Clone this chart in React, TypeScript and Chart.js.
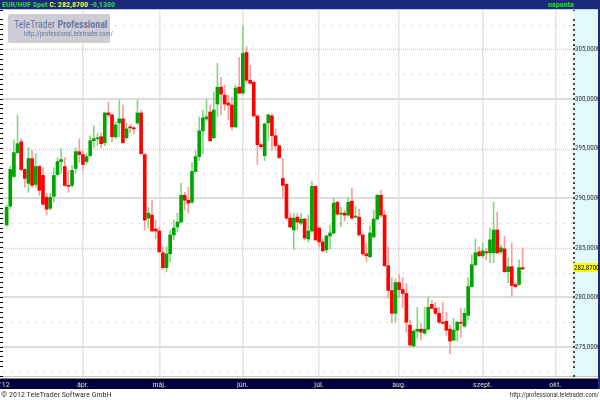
import { useEffect, useRef } from 'react';
import { Chart, registerables } from 'chart.js';

Chart.register(...registerables);

// ---- data (EUR/HUF Spot, daily candles) ----
const opens = [
  287.3, 289.2, 292.2, 294.6, 295.7, 292.9, 291.5, 294.0, 291.4, 293.2,
  292.3, 290.1, 289.0, 290.2, 292.4, 293.7, 293.2, 291.3, 291.3, 293.0,
  294.7, 294.4, 293.7, 294.3, 295.8, 296.0, 296.2, 295.6, 298.6, 298.4,
  296.2, 297.6, 298.0, 296.1, 297.2, 297.1, 297.6, 298.6, 294.4, 288.0,
  288.3, 286.9, 286.7, 284.5, 283.0, 284.4, 286.3, 287.1, 287.6, 290.3,
  289.8, 289.6, 292.7, 294.2, 296.8, 298.0, 298.7, 296.1, 299.5, 301.2,
  300.4, 299.6, 299.4, 297.2, 301.2, 300.6, 304.7, 301.9, 301.7, 298.3,
  295.4, 294.3, 297.6, 298.3, 296.3, 295.3, 292.0, 291.4, 288.0, 286.8,
  288.1, 287.5, 287.9, 285.9, 286.7, 291.2, 287.0, 285.6, 284.8, 286.2,
  286.5, 289.6, 288.4, 288.5, 288.3, 289.7, 288.1, 288.1, 286.3, 284.4,
  284.1, 286.1, 287.9, 290.3, 288.3, 283.2, 280.7, 278.4, 281.5, 280.8,
  280.4, 277.2, 275.1, 276.6, 276.8, 276.4, 276.8, 279.3, 278.9, 278.4,
  277.5, 277.6, 276.8, 275.7, 276.7, 277.5, 277.1, 278.2, 281.1, 283.3,
  284.6, 284.2, 284.6, 284.5, 284.5, 286.8, 284.6, 284.9, 282.6, 283.1,
  281.3, 281.3, 283.0,
];
const highs = [
  289.3, 293.2, 295.9, 298.4, 296.0, 293.0, 295.1, 294.8, 294.5, 293.3,
  293.1, 290.5, 290.5, 293.1, 294.1, 295.0, 294.1, 292.8, 293.3, 295.1,
  296.0, 294.8, 294.5, 296.3, 297.3, 296.5, 296.6, 298.7, 299.7, 298.5,
  297.7, 299.9, 299.4, 297.6, 297.4, 297.3, 299.9, 298.9, 294.5, 289.1,
  289.8, 287.8, 287.1, 285.1, 285.1, 286.8, 287.8, 288.5, 291.5, 290.6,
  291.1, 293.6, 294.8, 298.2, 298.9, 300.0, 299.4, 300.7, 303.6, 302.2,
  301.4, 300.4, 300.2, 301.4, 304.2, 307.3, 305.3, 303.4, 301.8, 298.4,
  295.6, 297.6, 298.5, 298.5, 297.0, 295.4, 294.0, 291.5, 288.5, 288.5,
  288.5, 288.5, 288.0, 288.3, 291.7, 291.2, 287.1, 285.9, 286.3, 287.3,
  290.0, 289.7, 289.1, 288.8, 290.1, 291.0, 289.2, 288.9, 286.4, 285.5,
  287.2, 288.8, 290.4, 290.8, 288.8, 285.1, 282.0, 281.9, 282.3, 282.0,
  281.4, 277.7, 276.8, 279.0, 277.4, 279.0, 280.0, 279.7, 279.5, 279.0,
  279.5, 278.5, 277.2, 277.9, 277.6, 278.9, 278.9, 282.0, 284.3, 285.9,
  285.1, 285.5, 284.9, 287.0, 289.6, 288.6, 285.3, 286.2, 284.0, 285.5,
  281.5, 283.8, 285.0,
];
const lows = [
  287.2, 288.9, 292.1, 294.5, 292.8, 291.1, 290.6, 291.1, 291.1, 290.3,
  289.3, 288.3, 288.8, 289.6, 292.2, 292.5, 291.2, 290.6, 291.1, 292.6,
  293.6, 292.8, 293.5, 294.2, 295.1, 295.3, 295.1, 295.3, 298.2, 295.7,
  296.0, 296.2, 295.5, 295.9, 296.6, 296.5, 297.4, 294.4, 286.8, 287.0,
  286.6, 285.9, 284.5, 282.8, 282.6, 283.6, 285.8, 286.6, 287.5, 288.8,
  288.5, 289.5, 292.6, 293.8, 294.5, 297.8, 295.7, 296.0, 298.2, 298.4,
  298.9, 297.9, 296.9, 297.1, 300.5, 300.5, 301.6, 301.5, 298.2, 293.4,
  295.0, 293.8, 295.8, 294.8, 294.8, 294.0, 290.0, 287.8, 287.0, 284.8,
  286.8, 287.3, 285.8, 285.6, 286.6, 285.7, 285.1, 284.6, 284.5, 284.9,
  286.4, 288.2, 287.1, 287.7, 288.2, 287.9, 288.0, 286.2, 284.2, 283.6,
  284.0, 286.0, 287.8, 288.1, 283.1, 279.9, 277.4, 277.5, 280.0, 279.0,
  276.5, 275.0, 275.0, 275.9, 275.7, 276.3, 276.7, 278.8, 278.2, 277.3,
  277.3, 276.2, 274.3, 275.6, 275.6, 276.0, 277.0, 277.7, 281.0, 283.2,
  284.1, 284.0, 283.8, 283.5, 283.5, 284.4, 284.4, 282.5, 281.5, 280.1,
  281.0, 281.2, 282.8,
];
const closes = [
  289.1, 292.9, 294.6, 295.5, 292.9, 292.0, 294.0, 291.3, 293.2, 290.8,
  289.4, 288.9, 290.1, 292.3, 293.7, 293.9, 291.3, 291.2, 292.8, 294.7,
  294.4, 293.4, 294.2, 295.8, 296.0, 296.1, 295.5, 298.6, 298.4, 296.2,
  297.4, 298.0, 295.6, 297.0, 297.1, 297.0, 298.6, 294.5, 287.8, 288.5,
  286.7, 286.7, 284.6, 283.0, 284.4, 286.3, 287.0, 287.6, 290.3, 289.8,
  289.5, 292.7, 294.2, 296.8, 298.1, 298.2, 295.8, 298.9, 301.2, 300.5,
  299.5, 299.4, 297.2, 301.1, 300.6, 304.6, 301.9, 301.6, 298.3, 295.4,
  295.2, 297.5, 298.4, 296.3, 295.3, 294.1, 291.3, 288.0, 287.1, 288.0,
  287.6, 287.9, 286.0, 286.7, 291.2, 285.8, 285.6, 284.7, 286.2, 286.5,
  289.5, 288.4, 288.5, 288.3, 289.6, 288.0, 288.2, 286.3, 284.4, 284.2,
  286.5, 287.9, 290.3, 288.3, 283.2, 280.7, 278.4, 281.5, 280.8, 280.4,
  277.5, 275.2, 276.6, 276.8, 276.5, 276.8, 279.0, 278.9, 278.4, 277.5,
  277.4, 276.7, 275.6, 276.7, 277.5, 277.4, 278.4, 281.1, 283.3, 284.5,
  284.2, 284.7, 284.5, 285.8, 286.8, 284.5, 285.0, 282.6, 283.1, 281.2,
  281.1, 283.0, 282.87,
];

const monthTicks = [0.55, 22, 43, 66, 87, 109, 132, 152];
const monthLabels = ["'12", 'ápr.', 'máj.', 'jún.', 'júl.', 'aug.', 'szept.', 'okt.'];

const yMin = 272.08;
const yMax = 308.98;
const xMin = 0;
const xMax = 156.85;
const lastClose = 282.87;
const priceChange = -0.13;

const COND = '"Roboto Condensed", "DejaVu Sans Condensed", sans-serif';
const UP = '#00a400';
const DOWN = '#ff0000';
const UP_WICK = '#84d884';
const DOWN_WICK = '#f4a0a0';

const fmt = (v: number) => v.toFixed(4).replace('.', ',');
const isMult = (v: number, m: number) => Math.abs(v / m - Math.round(v / m)) < 1e-6;

const decor = {
  id: 'decor',
  beforeDraw(chart: any) {
    const { ctx, chartArea: a, width } = chart;
    const xs = chart.scales.x;
    ctx.save();
    ctx.fillStyle = '#ffffff';
    ctx.fillRect(0, 0, width, chart.height);
    ctx.fillStyle = '#e2f9fc';
    ctx.fillRect(a.right, a.top, width - 2 - a.right, a.bottom - a.top);
    ctx.fillStyle = '#c8c8c8';
    ctx.fillRect(0, a.bottom, width, 1);
    ctx.fillStyle = '#8c8c60';
    ctx.fillRect(0, a.bottom + 2, width, 1);
    ctx.fillStyle = '#00003c';
    ctx.fillRect(0, a.bottom + 3, width, xs.bottom - a.bottom - 3);
    ctx.fillStyle = '#1c2c7c';
    ctx.fillRect(width - 2, 0, 2, xs.bottom);
    ctx.restore();
  },
  beforeDatasetsDraw(chart: any) {
    const { ctx, chartArea: a } = chart;
    const ys = chart.scales.y;
    ctx.save();
    for (let v = 272.5; v < yMax; v += 2.5) {
      if (isMult(v, 5)) continue;
      const y = Math.round(ys.getPixelForValue(v)) + 0.5;
      ctx.strokeStyle = '#b4b4b4';
      ctx.lineWidth = 1;
      ctx.setLineDash([1, 7]);
      ctx.beginPath();
      ctx.moveTo(a.left, y);
      ctx.lineTo(a.right, y);
      ctx.stroke();
    }
    for (const v of [285, 295, 305]) {
      const y = Math.round(ys.getPixelForValue(v)) + 0.5;
      ctx.strokeStyle = '#f0c4c4';
      ctx.lineWidth = 1.5;
      ctx.setLineDash([1, 1]);
      ctx.beginPath();
      ctx.moveTo(a.left, y);
      ctx.lineTo(a.right, y);
      ctx.stroke();
    }
    ctx.restore();
  },
  afterDraw(chart: any) {
    const { ctx, chartArea: a } = chart;
    const ys = chart.scales.y;
    const y = ys.getPixelForValue(lastClose) - 1;
    ctx.save();
    ctx.fillStyle = '#ffff00';
    ctx.fillRect(a.right, Math.round(y - 4.5), 25, 9);
    ctx.fillStyle = '#000000';
    ctx.font = '7px ' + COND;
    ctx.textBaseline = 'middle';
    ctx.textAlign = 'left';
    ctx.fillText(fmt(lastClose), a.right + 1, y);
    ctx.restore();
  },
};

export default function App() {
  const ref = useRef<HTMLCanvasElement>(null);

  useEffect(() => {
    if (!ref.current) return;
    const idx = closes.map((_, i) => i + 1);
    const isUp = closes.map((c, i) => c >= opens[i]);
    const chart = new Chart(ref.current, {
      type: 'bar',
      data: {
        datasets: [
          {
            label: 'body',
            data: idx.map((x, i) => ({ x, y: [opens[i], closes[i]] })) as any,
            backgroundColor: isUp.map((u) => (u ? UP : DOWN)),
            barThickness: 3,
            minBarLength: 1,
            grouped: false,
            yAxisID: 'y',
            xAxisID: 'x',
          } as any,
          {
            label: 'wick',
            data: idx.map((x, i) => ({ x, y: [lows[i], highs[i]] })) as any,
            backgroundColor: isUp.map((u) => (u ? UP_WICK : DOWN_WICK)),
            barThickness: 1,
            grouped: false,
            yAxisID: 'y',
            xAxisID: 'x',
          } as any,
        ],
      },
      options: {
        animation: false,
        responsive: false,
        maintainAspectRatio: false,
        events: [],
        layout: { padding: { top: 10, left: 0, right: 2, bottom: 11 } },
        plugins: { legend: { display: false }, tooltip: { enabled: false } },
        scales: {
          x: {
            type: 'linear',
            position: 'bottom',
            min: xMin,
            max: xMax,
            offset: false,
            afterBuildTicks: (s: any) => {
              s.ticks = monthTicks.map((v) => ({ value: v }));
            },
            afterFit: (s: any) => {
              s.height = 13;
              s.paddingLeft = 0;
              s.paddingRight = 0;
            },
            ticks: {
              autoSkip: false,
              maxRotation: 0,
              padding: 4,
              color: '#dcdcc0',
              font: { family: COND, size: 8 },
              callback: (_v: any, i: number) => monthLabels[i],
            },
            grid: {
              offset: false,
              drawTicks: false,
              lineWidth: 1.5,
              color: (c: any) => (c.index === 0 ? 'rgba(0,0,0,0)' : '#eee0e0'),
            },
            border: { display: false },
          },
          y: {
            type: 'linear',
            position: 'right',
            min: yMin,
            max: yMax,
            afterFit: (s: any) => {
              s.width = 25;
              s.paddingTop = 0;
              s.paddingBottom = 0;
            },
            ticks: {
              stepSize: 0.5,
              autoSkip: false,
              maxTicksLimit: 1000,
              padding: 0,
              color: '#333333',
              font: { family: COND, size: 7 },
              callback: (v: any) => (isMult(Number(v), 5) ? fmt(Number(v)) : ''),
            },
            grid: {
              tickLength: 2,
              tickColor: '#444444',
              lineWidth: 2,
              color: (c: any) => {
                const v = c.tick ? c.tick.value : NaN;
                return [275, 280, 290, 300].some((m) => Math.abs(v - m) < 1e-6)
                  ? '#dcdcdc'
                  : 'rgba(0,0,0,0)';
              },
            },
            border: { display: false },
          },
          yl: {
            type: 'linear',
            position: 'left',
            min: yMin,
            max: yMax,
            afterFit: (s: any) => {
              s.width = 3;
              s.paddingTop = 0;
              s.paddingBottom = 0;
            },
            ticks: { display: false, stepSize: 0.5, maxTicksLimit: 1000, autoSkip: false },
            grid: {
              drawOnChartArea: false,
              tickLength: 3,
              tickColor: '#000000',
              color: '#000000',
            },
            border: { display: false },
          },
        },
      } as any,
      plugins: [decor],
    });
    return () => chart.destroy();
  }, []);

  const txt = (extra: any) => ({
    position: 'absolute' as const,
    whiteSpace: 'nowrap' as const,
    fontFamily: COND,
    ...extra,
  });

  return (
    <div style={{ position: 'fixed', left: 0, top: 0, width: 600, height: 400, background: '#fff', overflow: 'hidden' }}>
      <canvas ref={ref} width={600} height={400} style={{ display: 'block', width: 600, height: 400 }} />
      <div style={{ position: 'absolute', left: 0, top: 0, width: 600, height: 9, background: '#1b2a78' }} />
      <div style={{ position: 'absolute', left: 0, top: 9, width: 598, height: 1, background: '#b8c8f0' }} />
      <div style={txt({ left: 2, top: 0, height: 9, lineHeight: '9px', fontSize: 8, fontWeight: 'bold' })}>
        <span style={{ color: '#2ed02e' }}>EUR/HUF Spot </span>
        <span style={{ color: '#f0f020' }}>C: {fmt(lastClose)} </span>
        <span style={{ color: '#2ed02e' }}>{fmt(priceChange)}</span>
      </div>
      <div style={txt({ left: 548, top: 0, height: 9, lineHeight: '9px', fontSize: 8, fontWeight: 'bold', color: '#2ed02e' })}>
        naponta
      </div>
      <div style={{ position: 'absolute', left: 8, top: 14, width: 102, height: 29, background: '#cdcdd3', borderRadius: 2 }}>
        <div style={txt({ left: 6, top: 4, lineHeight: '12px', fontSize: 11.5, color: '#6a7aaa', transform: 'scaleX(0.86)', transformOrigin: 'left center' })}>
          TeleTrader <b>Professional</b>
        </div>
        <div style={txt({ left: 16, top: 17, lineHeight: '7px', fontSize: 6.5, color: '#6a7aaa' })}>
          http://professional.teletrader.com/
        </div>
      </div>
      <div style={txt({ left: 1, top: 390, lineHeight: '10px', fontSize: 8, color: '#333' })}>
        © 2012 TeleTrader Software GmbH
      </div>
      <div style={txt({ right: 1, top: 390, lineHeight: '10px', fontSize: 6.5, color: '#333' })}>
        http://professional.teletrader.com/
      </div>
    </div>
  );
}
